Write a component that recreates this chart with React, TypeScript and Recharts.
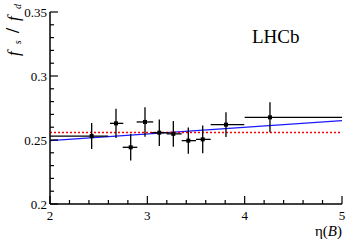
import { ComposedChart, Customized, ErrorBar, ReferenceLine, Scatter, XAxis, YAxis } from "recharts";

// eta(B) bin centres and asymmetric bin half-widths
const etaCenter = [2.428, 2.678, 2.829, 2.976, 3.123, 3.267, 3.421, 3.569, 3.808, 4.26];
const etaErrLow = [0.428, 0.062, 0.082, 0.086, 0.083, 0.068, 0.068, 0.069, 0.157, 0.26];
const etaErrHigh = [0.17, 0.075, 0.068, 0.084, 0.097, 0.086, 0.079, 0.082, 0.188, 0.74];

// fs/fd measured values and uncertainties
const fsfd = [0.2531, 0.263, 0.2443, 0.2641, 0.2557, 0.2548, 0.2495, 0.2505, 0.262, 0.2677];
const fsfdErr = [0.0101, 0.0115, 0.0103, 0.0115, 0.0104, 0.01, 0.0102, 0.0108, 0.0096, 0.0117];

// fits
const fitEta = [2, 5];
const fitLinear = [0.2495, 0.2651];
const fitConst = 0.2558;

const yTicks = [0.2, 0.21, 0.22, 0.23, 0.24, 0.25, 0.26, 0.27, 0.28, 0.29, 0.3, 0.31, 0.32, 0.33, 0.34, 0.35];
const yLabels: Record<string, string> = { "0.2": "0.2", "0.25": "0.25", "0.3": "0.3", "0.35": "0.35" };
const xTicks = [2, 2.2, 2.4, 2.6, 2.8, 3, 3.2, 3.4, 3.6, 3.8, 4, 4.2, 4.4, 4.6, 4.8, 5];
const xLabels: Record<string, string> = { "2": "2", "3": "3", "4": "4", "5": "5" };

const points = etaCenter.map((x, i) => ({
  x,
  y: fsfd[i],
  ex: [etaErrLow[i], etaErrHigh[i]],
  ey: [fsfdErr[i], fsfdErr[i]],
}));

const LEFT = 50;
const RIGHT = 342;
const TOP = 12;
const BOTTOM = 204;
const FONT = "'Liberation Serif', 'DejaVu Serif', serif";

const major = (v: number, lab: Record<string, string>) => lab[String(v)] !== undefined;

function LeftTick(p: any) {
  const v = p.payload.value;
  const len = major(v, yLabels) ? 8 : 4;
  return (
    <g>
      <line x1={LEFT} x2={LEFT + len} y1={p.y} y2={p.y} stroke="#000" strokeWidth={1.2} />
      {major(v, yLabels) && (
        <text x={LEFT - 3} y={p.y} dy="0.35em" textAnchor="end" fontFamily={FONT} fontSize={13} fill="#000">
          {yLabels[String(v)]}
        </text>
      )}
    </g>
  );
}

function RightTick(p: any) {
  const len = major(p.payload.value, yLabels) ? 8 : 4;
  return <line x1={RIGHT - len} x2={RIGHT} y1={p.y} y2={p.y} stroke="#000" strokeWidth={1.2} />;
}

function BottomTick(p: any) {
  const v = p.payload.value;
  const len = major(v, xLabels) ? 8 : 4;
  return (
    <g>
      <line x1={p.x} x2={p.x} y1={BOTTOM} y2={BOTTOM - len} stroke="#000" strokeWidth={1.2} />
      {major(v, xLabels) && (
        <text x={p.x} y={BOTTOM + 11} dy="0.35em" textAnchor="middle" fontFamily={FONT} fontSize={13} fill="#000">
          {xLabels[String(v)]}
        </text>
      )}
    </g>
  );
}

function TopTick(p: any) {
  const len = major(p.payload.value, xLabels) ? 8 : 4;
  return <line x1={p.x} x2={p.x} y1={TOP} y2={TOP + len} stroke="#000" strokeWidth={1.2} />;
}

function Marker(p: any) {
  return <rect x={p.cx - 2} y={p.cy - 2} width={4} height={4} fill="#000" />;
}

function Annotations() {
  return (
    <g fontFamily={FONT} fill="#000">
      <text x={252} y={43} fontSize={19}>
        LHCb
      </text>
      <text x={342} y={236} fontSize={15} textAnchor="end">
        η(<tspan fontStyle="italic">B</tspan>)
      </text>
      <text transform="translate(19,56) rotate(-90)" fontSize={17} textLength={52} lengthAdjust="spacing">
        <tspan fontStyle="italic">f</tspan>
        <tspan fontStyle="italic" fontSize={10} dy={2}>s</tspan>
        <tspan fontSize={18} fontWeight="bold" dy={-2}>/</tspan>
        <tspan fontStyle="italic">f</tspan>
        <tspan fontStyle="italic" fontSize={10} dy={2}>d</tspan>
      </text>
    </g>
  );
}

export default function App() {
  return (
    <div style={{ position: "absolute", left: 0, top: 0, width: 360, height: 244, background: "#fff" }}>
      <ComposedChart width={360} height={244} margin={{ top: TOP, right: 18, bottom: 10, left: 10 }}>
        <XAxis
          dataKey="x"
          type="number"
          domain={[2, 5]}
          ticks={xTicks}
          interval={0}
          height={30}
          allowDataOverflow
          axisLine={{ stroke: "#000", strokeWidth: 1.5 }}
          tickLine={false}
          tick={BottomTick}
        />
        <XAxis
          xAxisId="t"
          orientation="top"
          type="number"
          domain={[2, 5]}
          ticks={xTicks}
          interval={0}
          height={0}
          allowDataOverflow
          axisLine={{ stroke: "#000", strokeWidth: 1.5 }}
          tickLine={false}
          tick={TopTick}
        />
        <YAxis
          dataKey="y"
          type="number"
          domain={[0.2, 0.35]}
          ticks={yTicks}
          interval={0}
          width={40}
          allowDataOverflow
          axisLine={{ stroke: "#000", strokeWidth: 1.5 }}
          tickLine={false}
          tick={LeftTick}
        />
        <YAxis
          yAxisId="r"
          orientation="right"
          type="number"
          domain={[0.2, 0.35]}
          ticks={yTicks}
          interval={0}
          width={0}
          allowDataOverflow
          axisLine={{ stroke: "#000", strokeWidth: 1.5 }}
          tickLine={false}
          tick={RightTick}
        />
        <ReferenceLine
          segment={[
            { x: fitEta[0], y: fitLinear[0] },
            { x: fitEta[1], y: fitLinear[1] },
          ]}
          stroke="#1a1aff"
          strokeWidth={1.4}
        />
        <ReferenceLine y={fitConst} stroke="#ff0000" strokeWidth={1.5} strokeDasharray="2 2" />
        <Scatter data={points} shape={Marker} isAnimationActive={false}>
          <ErrorBar dataKey="ex" direction="x" width={0} stroke="#000" strokeWidth={1.3} isAnimationActive={false} />
          <ErrorBar dataKey="ey" direction="y" width={0} stroke="#000" strokeWidth={1.3} isAnimationActive={false} />
        </Scatter>
        <Customized component={Annotations} />
      </ComposedChart>
    </div>
  );
}
